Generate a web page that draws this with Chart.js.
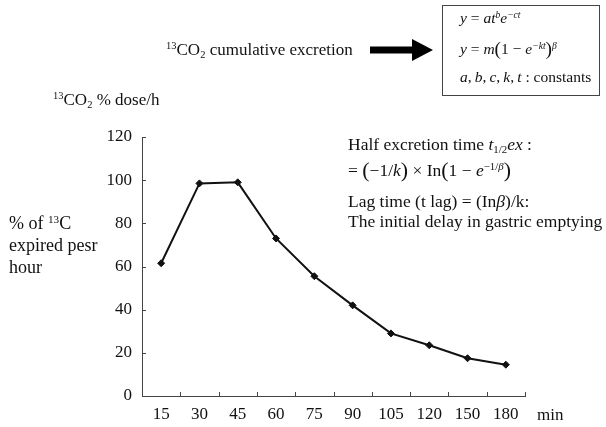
<!DOCTYPE html>
<html>
<head>
<meta charset="utf-8">
<script src="https://cdn.jsdelivr.net/npm/chart.js@4/dist/chart.umd.min.js"></script>
<style>
  html, body { margin:0; padding:0; background:#fff; }
  #wrap { position:relative; width:606px; height:427px; overflow:hidden; font-family:"Liberation Serif","Times New Roman",serif; color:#111; }
  canvas { position:absolute; left:0; top:0; }
  .t { position:absolute; white-space:nowrap; line-height:1; }
  .i { font-style:italic; }
  sup, sub { font-size:62%; line-height:0; position:relative; vertical-align:baseline; }
  sup { top:-0.55em; }
  sub { top:0.3em; }
  .big { font-size:125%; position:relative; top:1px; }
</style>
</head>
<body>
<div id="wrap">
  <canvas id="c" width="606" height="427"></canvas>

  <div class="t" style="left:166px; top:41px; font-size:17px;"><sup>13</sup>CO<sub>2</sub> cumulative excretion</div>
  <svg style="position:absolute; left:369px; top:37px;" width="66" height="26">
    <rect x="1" y="9.5" width="44" height="7" fill="#000"/>
    <polygon points="43,2 64,13 43,24" fill="#000"/>
  </svg>
  <div style="position:absolute; left:442px; top:5px; width:158px; height:91px; border:1px solid #444; box-sizing:border-box;"></div>
  <div class="t" style="left:460px; top:10px; font-size:15.5px;"><span class="i">y</span> = <span class="i">at<sup>b</sup>e<sup>&minus;ct</sup></span></div>
  <div class="t" style="left:460px; top:38px; font-size:15.5px;"><span class="i">y</span> = <span class="i">m</span><span class="big">(</span>1 &minus; <span class="i">e<sup>&minus;kt</sup></span><span class="big">)</span><sup class="i">&beta;</sup></div>
  <div class="t" style="left:460px; top:69px; font-size:15.5px;"><span class="i">a</span>,&thinsp;<span class="i">b</span>,&thinsp;<span class="i">c</span>,&thinsp;<span class="i">k</span>,&thinsp;<span class="i">t</span> : constants</div>

  <div class="t" style="left:53px; top:91px; font-size:17px;"><sup>13</sup>CO<sub>2</sub> % dose/h</div>

  <div class="t" style="left:9px; top:214px; font-size:18px;">% of <sup>13</sup>C</div>
  <div class="t" style="left:9px; top:236px; font-size:18px;">expired pesr</div>
  <div class="t" style="left:9px; top:258px; font-size:18px;">hour</div>

  <div class="t" style="left:348px; top:136px; font-size:17.5px;">Half excretion time <span class="i">t</span><sub>1/2</sub><span class="i">ex</span> :</div>
  <div class="t" style="left:348px; top:159px; font-size:17.5px;">= <span class="big">(</span>&minus;1/<span class="i">k</span><span class="big">)</span> &times; In<span class="big">(</span>1 &minus; <span class="i">e</span><sup>&minus;1/<span class="i">&beta;</span></sup><span class="big">)</span></div>
  <div class="t" style="left:348px; top:193px; font-size:17.5px;">Lag time (t lag) = (In<span class="i">&beta;</span>)/k:</div>
  <div class="t" style="left:348px; top:213px; font-size:17.5px;">The initial delay in gastric emptying</div>

  <div class="t" style="left:537px; top:406px; font-size:17px;">min</div>
</div>
<script>
const categories = ["15", "30", "45", "60", "75", "90", "105", "120", "150", "180"];
const excretion = [61.5, 98.5, 99, 73, 55.5, 42, 29, 23.5, 17.5, 14.5];
const yTicks = [0, 20, 40, 60, 80, 100, 120];

const innerTicks = {
  id: 'innerTicks',
  afterDraw(chart) {
    const ctx = chart.ctx;
    const xs = chart.scales.x, ys = chart.scales.y;
    ctx.save();
    ctx.strokeStyle = '#444';
    ctx.lineWidth = 1;
    ctx.beginPath();
    yTicks.forEach(v => {
      const py = Math.round(ys.getPixelForValue(v)) + 0.5;
      ctx.moveTo(xs.left, py); ctx.lineTo(xs.left + 4, py);
    });
    for (let i = 0; i < categories.length; i++) {
      const px = Math.round(xs.getPixelForValue(i + 0.5)) + 0.5;
      ctx.moveTo(px, ys.bottom); ctx.lineTo(px, ys.bottom - 4);
    }
    ctx.stroke();
    ctx.restore();
  }
};

new Chart(document.getElementById('c'), {
  type: 'line',
  data: {
    labels: categories,
    datasets: [{
      data: excretion,
      borderColor: '#111',
      backgroundColor: '#111',
      borderWidth: 2,
      pointStyle: 'rectRot',
      pointRadius: 3.5,
      pointBorderWidth: 1,
      tension: 0,
      fill: false
    }]
  },
  options: {
    responsive: false,
    animation: false,
    devicePixelRatio: 1,
    layout: { padding: { left: 0, right: 81, top: 137, bottom: 0 } },
    plugins: { legend: { display: false }, tooltip: { enabled: false } },
    scales: {
      x: {
        type: 'category',
        offset: true,
        grid: { display: false, drawTicks: false },
        border: { display: true, color: '#444', width: 1 },
        ticks: { color: '#111', padding: 8, maxRotation: 0, autoSkip: false,
                 font: { family: 'Liberation Serif', size: 17 } },
        afterFit(s) { s.height = 31; }
      },
      y: {
        min: 0, max: 120,
        grid: { display: false, drawTicks: false },
        border: { display: true, color: '#444', width: 1 },
        afterBuildTicks(s) { s.ticks = yTicks.map(v => ({ value: v })); },
        ticks: { color: '#111', padding: 10,
                 font: { family: 'Liberation Serif', size: 17 } },
        afterFit(s) { s.width = 142; }
      }
    }
  },
  plugins: [innerTicks]
});
</script>
</body>
</html>
